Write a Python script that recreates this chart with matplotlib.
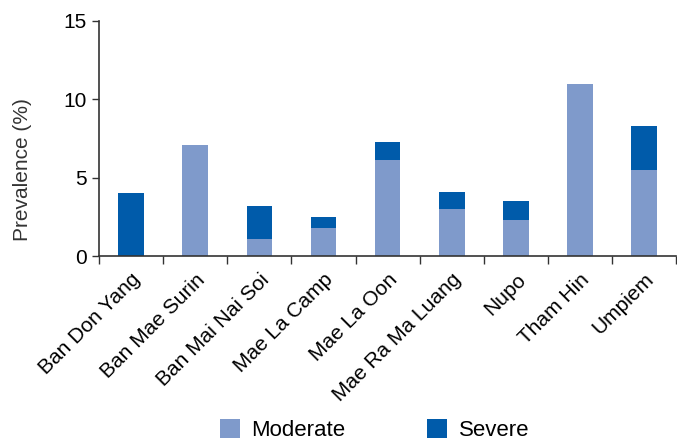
import matplotlib
matplotlib.use("Agg")
import matplotlib.pyplot as plt
import numpy as np

categories = ["Ban Don Yang", "Ban Mae Surin", "Ban Mai Nai Soi", "Mae La Camp",
              "Mae La Oon", "Mae Ra Ma Luang", "Nupo", "Tham Hin", "Umpiem"]
moderate = [0.0, 7.1, 1.1, 1.8, 6.1, 3.0, 2.3, 11.0, 5.5]
severe = [4.0, 0.0, 2.1, 0.7, 1.2, 1.1, 1.2, 0.0, 2.8]
yticks = [0, 5, 10, 15]

plt.rcParams['font.family'] = ['Liberation Sans', 'DejaVu Sans']

fig = plt.figure(figsize=(6.77, 4.40), dpi=100)
ax = fig.add_axes([99/677, 1-256/440, (677-99)/677 - 0.001, (256-21)/440])

x = np.arange(len(categories))
c_mod = "#7F9ACB"
c_sev = "#005BAA"
ax.bar(x, moderate, width=0.4, color=c_mod, label="Moderate")
ax.bar(x, severe, width=0.4, bottom=moderate, color=c_sev, label="Severe")

ax.set_xlim(-0.5, len(categories) - 0.5)
ax.set_ylim(0, 15)
ax.set_yticks(yticks)
ax.set_yticklabels([str(v) for v in yticks], fontsize=15)
ax.set_xticks(np.arange(len(categories) + 1) - 0.5)
ax.set_xticklabels([])
ax.set_xticks(x, minor=True)
ax.set_xticklabels(categories, minor=True, rotation=45, ha='right',
                   rotation_mode='anchor', fontsize=15)
ax.tick_params(axis='x', which='minor', length=0, pad=10)
ax.tick_params(axis='x', which='major', length=6, width=1, color='#333333')
ax.tick_params(axis='y', length=5, width=1, color='#333333', pad=4)

for s in ['top', 'right']:
    ax.spines[s].set_visible(False)
for s in ['left', 'bottom']:
    ax.spines[s].set_color('#333333')
    ax.spines[s].set_linewidth(1.2)

fig.text(23/677, 1-170/440, "Prevalence (%)", rotation=90, fontsize=15,
         color='#333333', ha='center', va='center')

fig.legend(loc='center left', bbox_to_anchor=(220/677, 1-430/440), ncol=2,
           frameon=False, fontsize=16, handlelength=0.9, handleheight=0.9,
           columnspacing=3.7, handletextpad=0.5, borderpad=0, borderaxespad=0)

fig.savefig("out.png", dpi=100)
